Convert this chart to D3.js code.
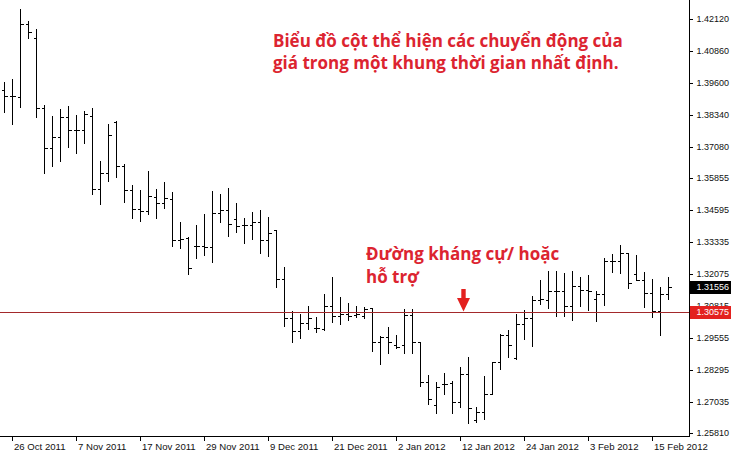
<!DOCTYPE html>
<html>
<head>
<meta charset="utf-8">
<script src="https://cdn.jsdelivr.net/npm/d3@7"></script>
<style>
  html, body { margin: 0; padding: 0; background: #fff; }
  svg { display: block; }
  .axis text { font-family: "Liberation Sans", Arial, sans-serif; font-size: 9px; fill: #111; }
  .xaxis text { font-size: 9.6px; }
  .note { font-family: "Open Sans", "Noto Sans", sans-serif; font-weight: 700; fill: #dc2430; }
</style>
</head>
<body>
<svg id="chart" width="731" height="455"></svg>
<script>
// ---- data ----
const dates = [
  "25 Oct 2011","26 Oct 2011","27 Oct 2011","28 Oct 2011","31 Oct 2011",
  "1 Nov 2011","2 Nov 2011","3 Nov 2011","4 Nov 2011",
  "7 Nov 2011","8 Nov 2011","9 Nov 2011","10 Nov 2011","11 Nov 2011",
  "14 Nov 2011","15 Nov 2011","16 Nov 2011","17 Nov 2011","18 Nov 2011",
  "21 Nov 2011","22 Nov 2011","23 Nov 2011","24 Nov 2011","25 Nov 2011",
  "28 Nov 2011","29 Nov 2011","30 Nov 2011",
  "1 Dec 2011","2 Dec 2011",
  "5 Dec 2011","6 Dec 2011","7 Dec 2011","8 Dec 2011","9 Dec 2011",
  "12 Dec 2011","13 Dec 2011","14 Dec 2011","15 Dec 2011","16 Dec 2011",
  "19 Dec 2011","20 Dec 2011","21 Dec 2011","22 Dec 2011","23 Dec 2011",
  "26 Dec 2011","27 Dec 2011","28 Dec 2011","29 Dec 2011","30 Dec 2011",
  "2 Jan 2012","3 Jan 2012","4 Jan 2012","5 Jan 2012","6 Jan 2012",
  "9 Jan 2012","10 Jan 2012","11 Jan 2012","12 Jan 2012","13 Jan 2012",
  "16 Jan 2012","17 Jan 2012","18 Jan 2012","19 Jan 2012","20 Jan 2012",
  "23 Jan 2012","24 Jan 2012","25 Jan 2012","26 Jan 2012","27 Jan 2012",
  "30 Jan 2012","31 Jan 2012",
  "1 Feb 2012","2 Feb 2012","3 Feb 2012",
  "6 Feb 2012","7 Feb 2012","8 Feb 2012","9 Feb 2012","10 Feb 2012",
  "13 Feb 2012","14 Feb 2012","15 Feb 2012","16 Feb 2012","17 Feb 2012"
];
const opens = [
  1.39308,1.39072,1.39021,1.41907,1.41344,1.38588,1.37013,1.37469,1.38233,1.37733,
  1.37733,1.38285,1.35398,1.36028,1.38060,1.36328,1.35371,1.34611,1.34556,1.35083,
  1.34847,1.35016,1.33402,1.33469,1.33166,1.33178,1.33138,1.34453,1.34583,1.34217,
  1.33981,1.33981,1.34099,1.33402,1.33796,1.31866,1.30319,1.29819,1.30122,1.29925,
  1.29898,1.30803,1.30421,1.30476,1.30449,1.30421,1.30713,1.29374,1.29571,1.29268,
  1.29268,1.30461,1.29386,1.27830,1.26905,1.27720,1.27760,1.27011,1.28114,1.26315,
  1.26618,1.27338,1.28610,1.29654,1.28744,1.30083,1.30319,1.31040,1.31040,1.31394,
  1.31394,1.30803,1.31591,1.31433,1.31079,1.31276,1.32575,1.32575,1.32878,1.32063,
  1.31827,1.31327,1.30618,1.31276
];
const highs = [
  1.39635,1.39741,1.42486,1.42025,1.41698,1.38718,1.38285,1.38560,1.38678,1.38324,
  1.38481,1.38611,1.36513,1.37970,1.38088,1.36395,1.35568,1.35371,1.36119,1.35410,
  1.35686,1.35292,1.34111,1.33532,1.33993,1.34426,1.35331,1.35213,1.35450,1.34847,
  1.34256,1.34493,1.34583,1.34296,1.33796,1.32327,1.30618,1.30488,1.30803,1.30382,
  1.31276,1.31933,1.31146,1.30910,1.30803,1.30752,1.30713,1.29622,1.29965,1.29661,
  1.30685,1.30685,1.29386,1.28086,1.27799,1.28153,1.27850,1.28413,1.28783,1.26815,
  1.28059,1.28610,1.29693,1.29858,1.30476,1.30646,1.31197,1.31827,1.32181,1.32181,
  1.32122,1.32181,1.31933,1.32024,1.31394,1.32681,1.32839,1.33205,1.32878,1.32811,
  1.32130,1.31855,1.31540,1.31933
];
const lows = [
  1.38454,1.37958,1.38627,1.41344,1.38257,1.36052,1.36328,1.36524,1.37076,1.36816,
  1.37233,1.35201,1.34808,1.35725,1.35894,1.34910,1.34256,1.34162,1.34426,1.34280,
  1.34674,1.33178,1.33099,1.32063,1.32681,1.32823,1.32548,1.34123,1.33571,1.33729,
  1.33296,1.33453,1.32878,1.32784,1.31563,1.30016,1.29398,1.29531,1.29898,1.29791,
  1.29858,1.30185,1.30106,1.30252,1.30382,1.30343,1.29043,1.28520,1.28964,1.29138,
  1.28941,1.28941,1.27653,1.26933,1.26602,1.27338,1.26578,1.26838,1.26185,1.26248,
  1.26342,1.27326,1.28323,1.28807,1.28716,1.29492,1.29240,1.30882,1.30725,1.30390,
  1.30390,1.30252,1.30803,1.30646,1.30224,1.30843,1.32154,1.32114,1.31524,1.31827,
  1.30752,1.30382,1.29661,1.31079
];
const closes = [
  1.39072,1.39072,1.41907,1.41580,1.38588,1.37013,1.37469,1.38233,1.37733,1.37733,
  1.38363,1.35398,1.36028,1.37536,1.36328,1.35371,1.34623,1.34556,1.35135,1.34847,
  1.35044,1.33402,1.33441,1.32288,1.33166,1.33138,1.34453,1.34583,1.34020,1.33965,
  1.33981,1.34099,1.33402,1.33666,1.31866,1.30319,1.29819,1.30122,1.30319,1.29925,
  1.30803,1.30421,1.30476,1.30421,1.30476,1.30673,1.29374,1.29571,1.29374,1.29201,
  1.30461,1.29374,1.27830,1.27141,1.27626,1.27720,1.27011,1.28114,1.26775,1.26618,
  1.27338,1.28610,1.29654,1.29268,1.30083,1.30319,1.31040,1.31059,1.31394,1.31394,
  1.30803,1.31591,1.31433,1.31406,1.31276,1.32575,1.32575,1.32878,1.31721,1.31827,
  1.31327,1.30618,1.31276,1.31556
];
const xTickLabels = ["26 Oct 2011","7 Nov 2011","17 Nov 2011","29 Nov 2011","9 Dec 2011",
  "21 Dec 2011","2 Jan 2012","12 Jan 2012","24 Jan 2012","3 Feb 2012","15 Feb 2012"];
const yTickValues = [1.42120,1.40860,1.39600,1.38340,1.37080,1.35855,1.34595,1.33335,
  1.32075,1.30815,1.29555,1.28295,1.27035,1.25810];
const levelPrice = 1.30575;
const lastPrice = 1.31556;
const titleLines = ["Biểu đồ cột thể hiện các chuyển động của", "giá trong một khung thời gian nhất định."];
const levelLines = ["Đường kháng cự/ hoặc", "hỗ trợ"];
const arrowDate = "12 Jan 2012";

// ---- drawing ----
const svg = d3.select("#chart");
const W = 731, H = 455;
const axisX = 689.5, axisY = 436.5;

const x = d3.scalePoint().domain(dates).range([3.5, 667.5]);
const y = d3.scaleLinear().domain([1.25810, 1.42120]).range([432.8, 18.6]);

svg.append("rect").attr("width", W).attr("height", H).attr("fill", "#fff");

// bars
const bars = svg.append("g").attr("fill", "none").attr("stroke", "#000").attr("stroke-width", 1)
  .attr("shape-rendering", "crispEdges");
const snap = v => Math.round(v) + 0.5;
dates.forEach((d, i) => {
  const cx = Math.round(x(d)) + 0.5;
  const p = `M${cx},${Math.round(y(highs[i]))}V${Math.round(y(lows[i])) + 1}` +
            `M${cx - 3},${snap(y(opens[i]))}H${cx}` +
            `M${cx},${snap(y(closes[i]))}H${cx + 3.5}`;
  bars.append("path").attr("d", p);
});

// level line
svg.append("line")
  .attr("x1", 0).attr("x2", axisX)
  .attr("y1", snap(y(levelPrice))).attr("y2", snap(y(levelPrice)))
  .attr("stroke", "#a3292b").attr("stroke-width", 1).attr("shape-rendering", "crispEdges");

// right axis
const yAxis = svg.append("g").attr("class", "axis")
  .attr("transform", `translate(${axisX},0)`)
  .call(d3.axisRight(y).tickValues(yTickValues).tickSize(3).tickPadding(4).tickFormat(d3.format(".5f")));
yAxis.select(".domain").remove();
yAxis.selectAll("line").attr("stroke", "#000").attr("shape-rendering", "crispEdges");

// bottom axis
const xAxis = svg.append("g").attr("class", "axis xaxis")
  .attr("transform", `translate(0,${axisY})`)
  .call(d3.axisBottom(x).tickValues(xTickLabels).tickSize(4).tickPadding(3));
xAxis.select(".domain").remove();
xAxis.selectAll("line").attr("stroke", "#000").attr("shape-rendering", "crispEdges");
xAxis.selectAll("text").attr("text-anchor", "start").attr("x", 2).attr("dy", "0.71em");

// frame lines
svg.append("line").attr("x1", axisX).attr("x2", axisX).attr("y1", 0).attr("y2", axisY)
  .attr("stroke", "#000").attr("shape-rendering", "crispEdges");
svg.append("line").attr("x1", 0).attr("x2", axisX).attr("y1", axisY).attr("y2", axisY)
  .attr("stroke", "#000").attr("shape-rendering", "crispEdges");

// price boxes
function priceBox(v, fill) {
  const cy = y(v);
  svg.append("rect").attr("x", axisX + 0.5).attr("y", Math.round(cy) - 6)
    .attr("width", W - axisX).attr("height", 13).attr("fill", fill);
  svg.append("text")
    .attr("x", axisX + 7).attr("y", cy).attr("dy", "0.35em")
    .style("font-family", '"Liberation Sans", Arial, sans-serif')
    .style("font-size", "9px").attr("fill", "#fff")
    .text(d3.format(".5f")(v));
}
priceBox(lastPrice, "#000");
priceBox(levelPrice, "#e3211f");

// annotations
const t1 = svg.append("text").attr("class", "note").style("font-size", "17px");
titleLines.forEach((s, i) => t1.append("tspan").attr("x", 273).attr("y", 47 + i * 22).text(s));
const t2 = svg.append("text").attr("class", "note").style("font-size", "17px");
levelLines.forEach((s, i) => t2.append("tspan").attr("x", 366).attr("y", 260 + i * 23).text(s));

// arrow
const ax = x(arrowDate) + 4;
svg.append("path")
  .attr("d", `M${ax - 2.2},289 H${ax + 2.2} V298 H${ax + 6.5} L${ax},311.5 L${ax - 6.5},298 H${ax - 2.2} Z`)
  .attr("fill", "#e3211f");
</script>
</body>
</html>
